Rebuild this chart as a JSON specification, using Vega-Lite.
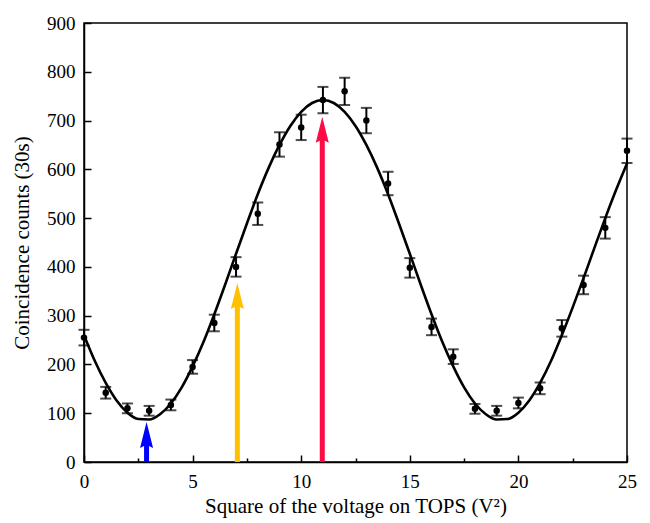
{
  "$schema": "https://vega.github.io/schema/vega-lite/v6.json",
  "width": 543,
  "height": 439,
  "autosize": "none",
  "padding": {"left": 84, "top": 23, "right": 23, "bottom": 61},
  "background": "white",
  "config": {
    "view": {"stroke": "black", "strokeWidth": 1.5},
    "font": "Liberation Serif",
    "axis": {
      "labelFont": "Liberation Serif",
      "titleFont": "Liberation Serif",
      "labelFontSize": 19,
      "titleFontSize": 21,
      "titleFontWeight": "normal",
      "labelColor": "black",
      "titleColor": "black",
      "domainColor": "black",
      "domainWidth": 1.5,
      "tickColor": "black",
      "tickWidth": 1.5,
      "labelFlush": false,
      "grid": false
    }
  },
  "datasets": {
    "pts": [
      {"v": 0, "n": 255, "lo": 239, "hi": 271},
      {"v": 1, "n": 142, "lo": 130, "hi": 154},
      {"v": 2, "n": 110, "lo": 100, "hi": 120},
      {"v": 3, "n": 105, "lo": 95, "hi": 115},
      {"v": 4, "n": 117, "lo": 106, "hi": 128},
      {"v": 5, "n": 195, "lo": 181, "hi": 209},
      {"v": 6, "n": 285, "lo": 268, "hi": 302},
      {"v": 7, "n": 400, "lo": 380, "hi": 420},
      {"v": 8, "n": 509, "lo": 486, "hi": 532},
      {"v": 9, "n": 651, "lo": 626, "hi": 676},
      {"v": 10, "n": 686, "lo": 660, "hi": 712},
      {"v": 11, "n": 742, "lo": 715, "hi": 769},
      {"v": 12, "n": 760, "lo": 732, "hi": 788},
      {"v": 13, "n": 700, "lo": 674, "hi": 726},
      {"v": 14, "n": 571, "lo": 547, "hi": 595},
      {"v": 15, "n": 398, "lo": 378, "hi": 418},
      {"v": 16, "n": 277, "lo": 260, "hi": 294},
      {"v": 17, "n": 216, "lo": 201, "hi": 231},
      {"v": 18, "n": 109, "lo": 99, "hi": 119},
      {"v": 19, "n": 105, "lo": 95, "hi": 115},
      {"v": 20, "n": 121, "lo": 110, "hi": 132},
      {"v": 21, "n": 151, "lo": 139, "hi": 163},
      {"v": 22, "n": 274, "lo": 257, "hi": 291},
      {"v": 23, "n": 363, "lo": 344, "hi": 382},
      {"v": 24, "n": 480, "lo": 458, "hi": 502},
      {"v": 25, "n": 638, "lo": 613, "hi": 663}
    ],
    "fit": [
      {"v": 0, "n": 260}, {"v": 0.5, "n": 207}, {"v": 1, "n": 162}, {"v": 1.5, "n": 126},
      {"v": 2, "n": 101}, {"v": 2.5, "n": 88}, {"v": 3, "n": 87}, {"v": 3.5, "n": 98},
      {"v": 4, "n": 120}, {"v": 4.5, "n": 153}, {"v": 5, "n": 196}, {"v": 5.5, "n": 246},
      {"v": 6, "n": 303}, {"v": 6.5, "n": 364}, {"v": 7, "n": 427}, {"v": 7.5, "n": 489},
      {"v": 8, "n": 549}, {"v": 8.5, "n": 603}, {"v": 9, "n": 650}, {"v": 9.5, "n": 689},
      {"v": 10, "n": 718}, {"v": 10.5, "n": 736}, {"v": 11, "n": 742}, {"v": 11.5, "n": 736},
      {"v": 12, "n": 718}, {"v": 12.5, "n": 689}, {"v": 13, "n": 650}, {"v": 13.5, "n": 603},
      {"v": 14, "n": 549}, {"v": 14.5, "n": 489}, {"v": 15, "n": 427}, {"v": 15.5, "n": 364},
      {"v": 16, "n": 303}, {"v": 16.5, "n": 246}, {"v": 17, "n": 196}, {"v": 17.5, "n": 153},
      {"v": 18, "n": 120}, {"v": 18.5, "n": 98}, {"v": 19, "n": 87}, {"v": 19.5, "n": 88},
      {"v": 20, "n": 101}, {"v": 20.5, "n": 126}, {"v": 21, "n": 162}, {"v": 21.5, "n": 207},
      {"v": 22, "n": 260}, {"v": 22.5, "n": 317}, {"v": 23, "n": 377}, {"v": 23.5, "n": 439},
      {"v": 24, "n": 500}, {"v": 24.5, "n": 558}, {"v": 25, "n": 612}
    ],
    "arrows": [
      {"v": 2.88, "base": 0, "tip": 82, "c": "blue"},
      {"v": 7.06, "base": 0, "tip": 367, "c": "yellow"},
      {"v": 10.97, "base": 0, "tip": 708, "c": "red"}
    ]
  },
  "layer": [
    {
      "data": {"name": "arrows"},
      "mark": {"type": "rule", "strokeWidth": 5, "y2Offset": 16},
      "encoding": {
        "x": {"field": "v", "type": "quantitative", "scale": {"domain": [0, 25], "nice": false},
          "axis": {
            "title": "Square of the voltage on TOPS (V²)",
            "values": [0, 2.5, 5, 7.5, 10, 12.5, 15, 17.5, 20, 22.5, 25],
            "labelExpr": "datum.value % 5 === 0 ? datum.label : ''",
            "tickSize": {"condition": {"test": "datum.value % 5 === 0", "value": -7}, "value": -4},
            "labelPadding": 17,
            "titlePadding": 4
          }
        },
        "y": {"field": "base", "type": "quantitative", "scale": {"domain": [0, 900], "nice": false},
          "axis": {
            "title": "Coincidence counts (30s)",
            "values": [0, 50, 100, 150, 200, 250, 300, 350, 400, 450, 500, 550, 600, 650, 700, 750, 800, 850, 900],
            "labelExpr": "datum.value % 100 === 0 ? datum.label : ''",
            "tickSize": {"condition": {"test": "datum.value % 100 === 0", "value": -7}, "value": -4},
            "labelPadding": 16,
            "titlePadding": 14
          }
        },
        "y2": {"field": "tip"},
        "color": {"field": "c", "type": "nominal", "scale": {"domain": ["blue", "yellow", "red"], "range": ["#0000FF", "#FFC000", "#FF0A45"]}, "legend": null}
      }
    },
    {
      "data": {"name": "arrows"},
      "mark": {"type": "point", "filled": true, "opacity": 1, "size": 676, "yOffset": 13, "strokeWidth": 0,
        "shape": "M0,-1 L0.5,1 L0,0.75 L-0.5,1 Z"},
      "encoding": {
        "x": {"field": "v", "type": "quantitative"},
        "y": {"field": "tip", "type": "quantitative"},
        "color": {"field": "c", "type": "nominal", "legend": null}
      }
    },
    {
      "data": {"name": "fit"},
      "mark": {"type": "line", "color": "black", "strokeWidth": 2.6, "interpolate": "monotone"},
      "encoding": {
        "x": {"field": "v", "type": "quantitative"},
        "y": {"field": "n", "type": "quantitative"}
      }
    },
    {
      "data": {"name": "pts"},
      "mark": {"type": "rule", "color": "black", "strokeWidth": 2},
      "encoding": {
        "x": {"field": "v", "type": "quantitative"},
        "y": {"field": "lo", "type": "quantitative"},
        "y2": {"field": "hi"}
      }
    },
    {
      "data": {"name": "pts"},
      "mark": {"type": "tick", "color": "black", "orient": "horizontal", "size": 11, "thickness": 2},
      "encoding": {
        "x": {"field": "v", "type": "quantitative"},
        "y": {"field": "lo", "type": "quantitative"}
      }
    },
    {
      "data": {"name": "pts"},
      "mark": {"type": "tick", "color": "black", "orient": "horizontal", "size": 11, "thickness": 2},
      "encoding": {
        "x": {"field": "v", "type": "quantitative"},
        "y": {"field": "hi", "type": "quantitative"}
      }
    },
    {
      "data": {"name": "pts"},
      "mark": {"type": "circle", "color": "black", "opacity": 1, "size": 42},
      "encoding": {
        "x": {"field": "v", "type": "quantitative"},
        "y": {"field": "n", "type": "quantitative"}
      }
    }
  ]
}
